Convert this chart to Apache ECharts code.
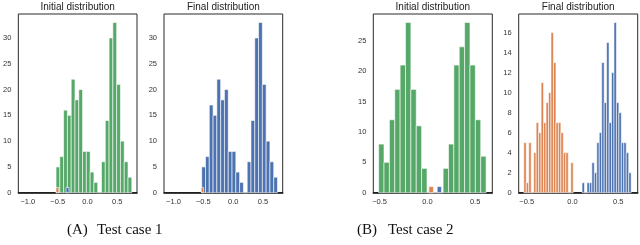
<!DOCTYPE html>
<html>
<head>
<meta charset="utf-8">
<script src="https://cdn.jsdelivr.net/npm/echarts@6/dist/echarts.min.js"></script>
<style>
html,body{margin:0;padding:0;background:#fff;}
#chart{width:640px;height:245px;}
</style>
</head>
<body>
<div id="chart"></div>
<script>
// ---------- DATA ----------
// Test case 1, initial distribution (green histogram)
const p1Counts = [5,7,16,15,22,18,20,8,8,4,2,0,6,14,30,33,21,10,6,3];
const p1Start = -0.527, p1Width = 0.0635;
const p1Orange = {start: -0.527, width: 0.045, count: 1};
const p1Blue = {start: -0.36, width: 0.05, count: 1};
// Test case 1, final distribution (blue histogram)
const p2Counts = [5,7,17,15,22,18,20,8,8,4,2,0,6,14,30,33,21,10,6,3];
const p2Start = -0.527, p2Width = 0.0635;
const p2Orange = {start: -0.535, width: 0.04, count: 1};
// Test case 2, initial distribution (green histogram)
const p3Counts = [8,5,12,17,21,28,17,11,4,0,0,0,4,8,21,24,28,21,12,6];
const p3Start = -0.51, p3Width = 0.05625;
const p3Orange = {start: 0.016, width: 0.048, count: 1};
const p3Blue = {start: 0.103, width: 0.045, count: 1};
// Test case 2, final distribution (orange + blue histograms)
const p4OrangeCounts = [5,1,5,0,4,7,6,11,7,9,10,16,13,7,7,6,4,4,0,3];
const p4OrangeStart = -0.5315, p4OrangeWidth = 0.027;
const p4BlueCounts = [1,0,1,1,3,2,5,6,13,9,15,7,12,17,9,8,5,5,4,2];
const p4BlueStart = 0.1046, p4BlueWidth = 0.0268;

// tick labels
const xTicksA = [-1.0, -0.5, 0.0, 0.5];
const xTicksB = [-0.5, 0.0, 0.5];
const yTicksA = [0,5,10,15,20,25,30];
const yTicksB3 = [0,5,10,15,20,25];
const yTicksB4 = [0,2,4,6,8,10,12,14,16];

const titles = ['Initial distribution','Final distribution','Initial distribution','Final distribution'];
const captions = [['(A)','Test case 1'],['(B)','Test case 2']];

// ---------- COLORS / LAYOUT ----------
const GREEN = '#55a868', BLUE = '#4c72b0', ORANGE = '#dd8452';
const grids = [
  {left: 18.3, top: 14, width: 118.7, height: 178.7},
  {left: 164, top: 14, width: 118.7, height: 178.7},
  {left: 373.3, top: 14, width: 119, height: 178.7},
  {left: 518.7, top: 14, width: 119, height: 178.7}
];
const xRanges = [[-1.159, 0.830], [-1.159, 0.830], [-0.566, 0.680], [-0.587, 0.712]];
const yMax = [34.65, 34.65, 29.4, 17.85];
const xTickSets = [xTicksA, xTicksA, xTicksB, xTicksB];
const yTickSets = [yTicksA, yTicksA, yTicksB3, yTicksB4];

function hist(counts, start, width) {
  return counts.map((c, i) => [start + i * width, start + (i + 1) * width, c]);
}
function single(o) { return [[o.start, o.start + o.width, o.count]]; }

function renderBar(params, api) {
  const p0 = api.coord([api.value(0), api.value(2)]);
  const p1 = api.coord([api.value(1), 0]);
  return {
    type: 'rect',
    shape: {x: p0[0], y: p0[1], width: p1[0] - p0[0], height: p1[1] - p0[1]},
    style: {fill: api.visual('color'), stroke: '#ffffff', lineWidth: 0.6}
  };
}

function fmtTick(v) {
  return (Math.abs(v) < 1e-9 ? 0 : v).toFixed(1).replace('-', '\u2212');
}

const labelFont = {fontFamily: 'Liberation Sans, Arial, sans-serif', fontSize: 7.5, color: '#333'};

const option = {
  animation: false,
  grid: grids.map(g => Object.assign({show: true, borderColor: '#2a2a2a', borderWidth: 1, backgroundColor: 'transparent', containLabel: false}, g)),
  xAxis: grids.map((g, i) => ({
    type: 'value', gridIndex: i, min: xRanges[i][0], max: xRanges[i][1],
    axisLine: {show: true, onZero: false, lineStyle: {color: '#111', width: 1.6}},
    axisTick: {show: false}, splitLine: {show: false},
    axisLabel: Object.assign({customValues: xTickSets[i], formatter: fmtTick, margin: 5.5}, labelFont)
  })),
  yAxis: grids.map((g, i) => ({
    type: 'value', gridIndex: i, min: 0, max: yMax[i],
    axisLine: {show: false}, axisTick: {show: false}, splitLine: {show: false},
    axisLabel: Object.assign({customValues: yTickSets[i], margin: 7}, labelFont)
  })),
  series: [
    {type: 'custom', xAxisIndex: 0, yAxisIndex: 0, color: GREEN, renderItem: renderBar, data: hist(p1Counts, p1Start, p1Width), z: 2},
    {type: 'custom', xAxisIndex: 0, yAxisIndex: 0, color: ORANGE, renderItem: renderBar, data: single(p1Orange), z: 3},
    {type: 'custom', xAxisIndex: 0, yAxisIndex: 0, color: BLUE, renderItem: renderBar, data: single(p1Blue), z: 3},
    {type: 'custom', xAxisIndex: 1, yAxisIndex: 1, color: BLUE, renderItem: renderBar, data: hist(p2Counts, p2Start, p2Width), z: 2},
    {type: 'custom', xAxisIndex: 1, yAxisIndex: 1, color: ORANGE, renderItem: renderBar, data: single(p2Orange), z: 3},
    {type: 'custom', xAxisIndex: 2, yAxisIndex: 2, color: GREEN, renderItem: renderBar, data: hist(p3Counts, p3Start, p3Width), z: 2},
    {type: 'custom', xAxisIndex: 2, yAxisIndex: 2, color: ORANGE, renderItem: renderBar, data: single(p3Orange), z: 3},
    {type: 'custom', xAxisIndex: 2, yAxisIndex: 2, color: BLUE, renderItem: renderBar, data: single(p3Blue), z: 3},
    {type: 'custom', xAxisIndex: 3, yAxisIndex: 3, color: ORANGE, renderItem: renderBar, data: hist(p4OrangeCounts, p4OrangeStart, p4OrangeWidth), z: 2},
    {type: 'custom', xAxisIndex: 3, yAxisIndex: 3, color: BLUE, renderItem: renderBar, data: hist(p4BlueCounts, p4BlueStart, p4BlueWidth), z: 2}
  ],
  graphic: [
    ...grids.map((g, i) => ({
      type: 'text', x: g.left + g.width / 2, y: 7.5,
      style: {text: titles[i], fill: '#222', font: '10px "Liberation Sans", Arial, sans-serif', textAlign: 'center', textVerticalAlign: 'middle'}
    })),
    {type: 'text', x: 67, y: 230, style: {text: captions[0][0], fill: '#111', font: '15px "Liberation Serif", serif', textAlign: 'left', textVerticalAlign: 'middle'}},
    {type: 'text', x: 97, y: 230, style: {text: captions[0][1], fill: '#111', font: '15px "Liberation Serif", serif', textAlign: 'left', textVerticalAlign: 'middle'}},
    {type: 'text', x: 357, y: 230, style: {text: captions[1][0], fill: '#111', font: '15px "Liberation Serif", serif', textAlign: 'left', textVerticalAlign: 'middle'}},
    {type: 'text', x: 388, y: 230, style: {text: captions[1][1], fill: '#111', font: '15px "Liberation Serif", serif', textAlign: 'left', textVerticalAlign: 'middle'}}
  ]
};

const chart = echarts.init(document.getElementById('chart'), null, {renderer: 'canvas'});
chart.setOption(option);
</script>
</body>
</html>
